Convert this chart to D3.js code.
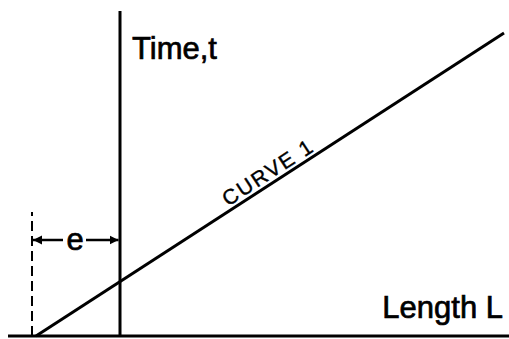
<!DOCTYPE html>
<html>
<head>
<meta charset="utf-8">
<script src="https://cdn.jsdelivr.net/npm/d3@7"></script>
<style>
  html, body { margin: 0; padding: 0; background: #fff; }
  svg { display: block; }
  text { font-family: "Liberation Sans", Arial, sans-serif; fill: #000; stroke: #000; stroke-width: 0.7px; }
</style>
</head>
<body>
<svg id="chart" width="509" height="339"></svg>
<script>
// Length L vs time t: curve 1 starts at L = -e, where the time axis sits at L = 0.
const lengthDomain = [-5.6, 19.45];
const timeDomain = [0, 16.25];
const curveL = [-4.2, 19.2];
const curveT = [0, 15.15];
const offsetE = 4.4;          // distance e between curve start and time axis
const dashTop = 6.2;          // height of the dashed marker at L = -e
const arrowT = 4.8;           // height of the "e" dimension arrow
const axisLabels = ["Time,t", "Length L"];
const curveLabel = "CURVE 1";
const offsetLabel = "e";

const svg = d3.select("#chart");

const x = d3.scaleLinear().domain(lengthDomain).range([8, 509]);
const y = d3.scaleLinear().domain(timeDomain).range([336, 11]);

// arrowheads
const defs = svg.append("defs");
defs.append("marker")
  .attr("id", "head")
  .attr("viewBox", "0 0 10 10")
  .attr("refX", 10).attr("refY", 5)
  .attr("markerUnits", "userSpaceOnUse")
  .attr("markerWidth", 9).attr("markerHeight", 10)
  .attr("orient", "auto-start-reverse")
  .append("path").attr("d", "M0,0 L10,5 L0,10 Z").attr("fill", "#000");

// horizontal (length) axis
svg.append("line")
  .attr("x1", x(lengthDomain[0])).attr("x2", x(lengthDomain[1]))
  .attr("y1", y(0)).attr("y2", y(0))
  .attr("stroke", "#000").attr("stroke-width", 3);

// vertical (time) axis at L = 0
svg.append("line")
  .attr("x1", x(0)).attr("x2", x(0))
  .attr("y1", y(0)).attr("y2", y(timeDomain[1]))
  .attr("stroke", "#000").attr("stroke-width", 3);

// dashed marker at the curve origin
svg.append("line")
  .attr("x1", x(-offsetE)).attr("x2", x(-offsetE))
  .attr("y1", y(0)).attr("y2", y(dashTop))
  .attr("stroke", "#000").attr("stroke-width", 2)
  .attr("stroke-dasharray", "10,5");

// curve 1
const line = d3.line().x(d => x(d[0])).y(d => y(d[1]));
const curvePts = curveL.map((l, i) => [l, curveT[i]]);
svg.append("path")
  .attr("d", line(curvePts))
  .attr("fill", "none").attr("stroke", "#000").attr("stroke-width", 3);

// "e" dimension arrows
const ex = (x(-offsetE) + x(0)) / 2 - 1;
svg.append("line")
  .attr("x1", ex - 12).attr("x2", x(-offsetE) + 1)
  .attr("y1", y(arrowT)).attr("y2", y(arrowT))
  .attr("stroke", "#000").attr("stroke-width", 2.5)
  .attr("marker-end", "url(#head)");
svg.append("line")
  .attr("x1", ex + 11).attr("x2", x(0) - 1.5)
  .attr("y1", y(arrowT)).attr("y2", y(arrowT))
  .attr("stroke", "#000").attr("stroke-width", 2.5)
  .attr("marker-end", "url(#head)");
svg.append("text")
  .attr("x", ex).attr("y", y(arrowT) + 10)
  .attr("text-anchor", "middle")
  .attr("font-size", 31)
  .text(offsetLabel);

// axis titles
svg.append("text")
  .attr("x", x(0) + 12).attr("y", 59)
  .attr("font-size", 31)
  .text(axisLabels[0]);
svg.append("text")
  .attr("x", 503).attr("y", 318)
  .attr("text-anchor", "end")
  .attr("font-size", 31)
  .text(axisLabels[1]);

// label along the curve
const angle = Math.atan2(y(curveT[1]) - y(curveT[0]), x(curveL[1]) - x(curveL[0])) * 180 / Math.PI;
const lx = 272, ly = y(curveT[0]) + (lx - x(curveL[0])) * Math.tan(angle * Math.PI / 180);
svg.append("text")
  .attr("transform", `translate(${lx},${ly - 5}) rotate(${angle})`)
  .attr("text-anchor", "middle")
  .attr("font-size", 21)
  .attr("letter-spacing", 2)
  .style("stroke-width", "0.4px")
  .text(curveLabel);
</script>
</body>
</html>
